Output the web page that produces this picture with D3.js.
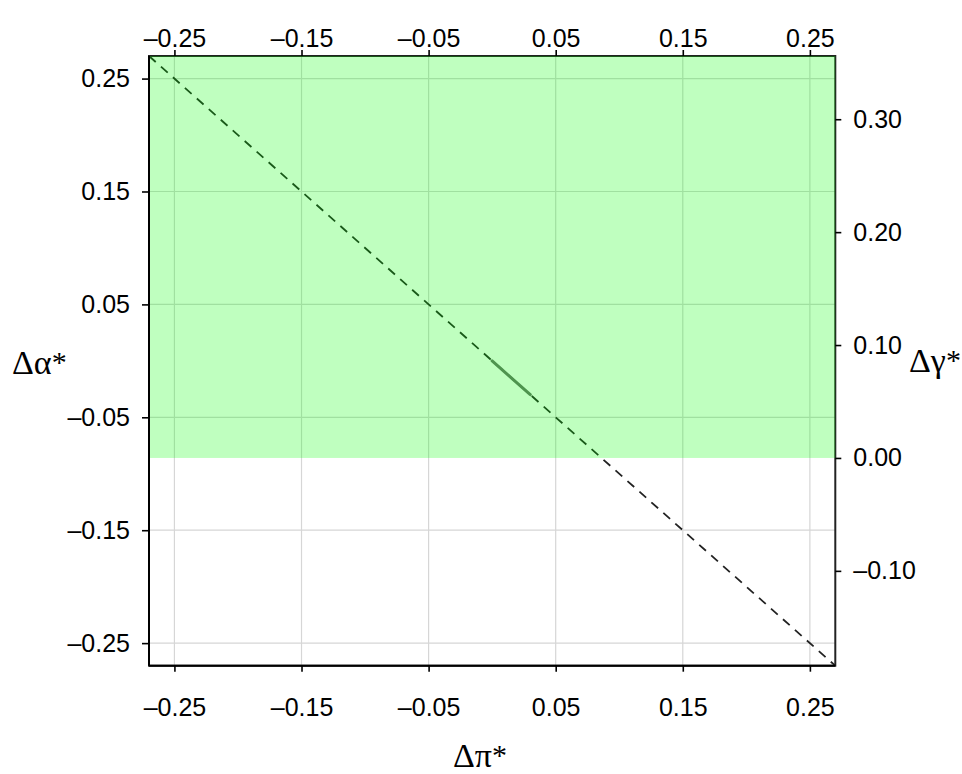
<!DOCTYPE html>
<html>
<head>
<meta charset="utf-8">
<script src="https://cdn.jsdelivr.net/npm/d3@7"></script>
<style>
  html, body { margin: 0; padding: 0; background: #fff; }
  svg { display: block; }
  .tick-label { font-family: "Liberation Sans", Arial, sans-serif; font-size: 25px; fill: #000; }
  .title { font-family: "Liberation Serif", "Times New Roman", serif; font-size: 34px; fill: #000; }
  .sup { font-size: 30px; }
</style>
</head>
<body>
<svg id="chart" width="962" height="774"></svg>
<script>
// Axis domains
const piDomain = [-0.27, 0.27];
const alphaDomain = [-0.27, 0.27];
const gammaDomain = [-0.184, 0.356];

// Tick values
const piTicks = [-0.25, -0.15, -0.05, 0.05, 0.15, 0.25];
const alphaTicks = [-0.25, -0.15, -0.05, 0.05, 0.15, 0.25];
const gammaTicks = [-0.10, 0.00, 0.10, 0.20, 0.30];

// Iso line Δα* = −Δπ* (dashed) and the highlighted stretch on it
const isoPi = [-0.27, 0.27];
const isoAlpha = [0.27, -0.27];
const segPi = [0.00, 0.03];
const segAlpha = [0.00, -0.03];

// Region where Δγ* ≥ 0
const regionGamma = [0.00, 0.356];

const fmt = v => {
  const s = d3.format(".2f")(Math.abs(v));
  return (v < -1e-9 ? "\u2013" : "") + s;
};

const svg = d3.select("#chart");
const L = 149, R = 835.3, T = 56, B = 665.7;

const x = d3.scaleLinear().domain(piDomain).range([L, R]);
const y = d3.scaleLinear().domain(alphaDomain).range([B, T]);
const yR = d3.scaleLinear().domain(gammaDomain).range([B, T]);

// grid
const grid = svg.append("g");
grid.selectAll(".gx").data(piTicks).join("line")
  .attr("x1", d => x(d)).attr("x2", d => x(d))
  .attr("y1", T).attr("y2", B)
  .attr("stroke", "#d6d6d6").attr("stroke-width", 1.2);
grid.selectAll(".gy").data(alphaTicks).join("line")
  .attr("y1", d => y(d)).attr("y2", d => y(d))
  .attr("x1", L).attr("x2", R)
  .attr("stroke", "#d6d6d6").attr("stroke-width", 1.2);

// dashed iso line
const pts = isoPi.map((p, i) => [p, isoAlpha[i]]);
const line = d3.line().x(d => x(d[0])).y(d => y(d[1]));
svg.append("path").datum(pts)
  .attr("d", line)
  .attr("fill", "none")
  .attr("stroke", "#222")
  .attr("stroke-width", 1.8)
  .attr("stroke-dasharray", "9,7");

// frame
svg.append("rect")
  .attr("x", L).attr("y", T).attr("width", R - L).attr("height", B - T)
  .attr("fill", "none").attr("stroke", "#222").attr("stroke-width", 2);

// translucent green overlay for Δγ* ≥ 0
svg.append("rect")
  .attr("x", L).attr("width", R - L)
  .attr("y", yR(regionGamma[1]))
  .attr("height", yR(regionGamma[0]) - yR(regionGamma[1]))
  .attr("fill", "rgba(0,255,0,0.25)");

// left and bottom axis lines
svg.append("line").attr("x1", L).attr("x2", L).attr("y1", T).attr("y2", B)
  .attr("stroke", "#000").attr("stroke-width", 2);
svg.append("line").attr("x1", L).attr("x2", R).attr("y1", B).attr("y2", B)
  .attr("stroke", "#000").attr("stroke-width", 2);

// highlighted segment
const seg = segPi.map((p, i) => [p, segAlpha[i]]);
svg.append("path").datum(seg)
  .attr("d", line)
  .attr("fill", "none")
  .attr("stroke", "rgb(78,148,78)")
  .attr("stroke-width", 3)
  .attr("stroke-linecap", "round");

// axes
function styleAxis(g) {
  g.select(".domain").remove();
  g.selectAll(".tick line").attr("stroke", "#000").attr("stroke-width", 1.6);
  g.selectAll(".tick text").attr("class", "tick-label");
}

svg.append("g").attr("transform", `translate(0,${B})`)
  .call(d3.axisBottom(x).tickValues(piTicks).tickFormat(fmt).tickSizeOuter(0).tickSize(6).tickPadding(27))
  .call(styleAxis);
svg.append("g").attr("transform", `translate(0,${T})`)
  .call(d3.axisTop(x).tickValues(piTicks).tickFormat(fmt).tickSizeOuter(0).tickSize(6).tickPadding(3))
  .call(styleAxis);
svg.append("g").attr("transform", `translate(${L},0)`)
  .call(d3.axisLeft(y).tickValues(alphaTicks).tickFormat(fmt).tickSizeOuter(0).tickSize(7).tickPadding(12))
  .call(styleAxis);
svg.append("g").attr("transform", `translate(${R},0)`)
  .call(d3.axisRight(yR).tickValues(gammaTicks).tickFormat(fmt).tickSizeOuter(0).tickSize(6).tickPadding(12))
  .call(styleAxis);

// axis titles: Greek symbol with a raised asterisk
function title(xp, yp, sym) {
  const t = svg.append("text").attr("class", "title").attr("x", xp).attr("y", yp);
  t.append("tspan").text("\u0394" + sym);
  t.append("tspan").attr("class", "sup").attr("dy", -2).text("*");
}
title(12, 374, "\u03b1");
title(909, 372, "\u03b3");
title(453, 767, "\u03c0");
</script>
</body>
</html>
